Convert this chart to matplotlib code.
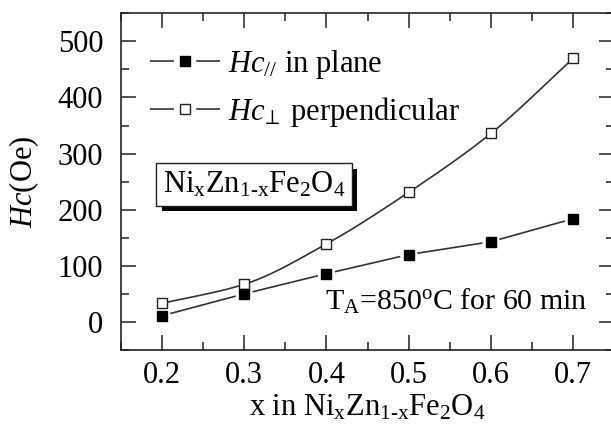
import numpy as np
import matplotlib
matplotlib.use("Agg")
import matplotlib.pyplot as plt
from matplotlib.lines import Line2D
from matplotlib.ticker import MultipleLocator
import matplotlib.patheffects as pe

plt.rcParams["font.family"] = ["Liberation Serif", "DejaVu Serif"]
plt.rcParams["mathtext.fontset"] = "custom"
plt.rcParams["mathtext.rm"] = "Liberation Serif"
plt.rcParams["mathtext.it"] = "Liberation Serif:italic"
plt.rcParams["mathtext.bf"] = "Liberation Serif:bold"
plt.rcParams["lines.scale_dashes"] = False

# Ni content and coercivity values
x_ni = [0.2, 0.3, 0.4, 0.5, 0.6, 0.7]
hc_in_plane = [11, 50, 86, 120, 143, 184]
hc_perp = [33, 67, 139, 231, 336, 470]

x_ticks = [0.2, 0.3, 0.4, 0.5, 0.6, 0.7]
y_ticks = [0, 100, 200, 300, 400, 500]

label_in = r"$\mathit{Hc}_{\mathit{//}}$ in plane"
label_perp = r"$\mathit{Hc}_{\!\perp}$ perpendicular"

FS = 22
W, H = 611, 438
fig = plt.figure(figsize=(W / 100, H / 100), dpi=100)
left, right, top, bottom = 120.7, 614.4, 13.3, 350.0
ax = fig.add_axes([left / W, 1 - bottom / H, (right - left) / W, (bottom - top) / H])

ax.set_xlim(0.15, 0.75)
ax.set_ylim(-50, 550)
ax.set_xticks(x_ticks)
ax.set_yticks(y_ticks)
ax.set_xticklabels([f"{v:.1f}" for v in x_ticks])
ax.xaxis.set_minor_locator(MultipleLocator(0.05))
ax.yaxis.set_minor_locator(MultipleLocator(50))
ax.tick_params(which="both", direction="in", top=True, right=True, width=1.1, color="#222222")
ax.tick_params(which="major", length=10.5, labelsize=FS)
ax.tick_params(which="minor", length=5.5)
ax.tick_params(axis="y", which="major", pad=12.5)
ax.tick_params(axis="x", which="major", pad=8)
for s in ax.spines.values():
    s.set_linewidth(1.2)
    s.set_color("#222222")

line_col = "#333333"
ms = 7.8

# perpendicular: smooth monotone cubic (Fritsch-Carlson) through the measured points
xs = np.array(x_ni, float)
ys = np.array(hc_perp, float)
hk = np.diff(xs)
dk = np.diff(ys) / hk
m = np.zeros_like(ys)
m[0], m[-1] = dk[0], dk[-1]
for i in range(1, len(xs) - 1):
    w1 = 2 * hk[i] + hk[i - 1]
    w2 = hk[i] + 2 * hk[i - 1]
    m[i] = (w1 + w2) / (w1 / dk[i - 1] + w2 / dk[i])
xf, yf = [], []
for i in range(len(xs) - 1):
    t = np.linspace(0, 1, 40)
    h00 = 2 * t**3 - 3 * t**2 + 1
    h10 = t**3 - 2 * t**2 + t
    h01 = -2 * t**3 + 3 * t**2
    h11 = t**3 - t**2
    xf.extend(xs[i] + t * hk[i])
    yf.extend(h00 * ys[i] + h10 * hk[i] * m[i] + h01 * ys[i + 1] + h11 * hk[i] * m[i + 1])
ax.plot(xf, yf, color=line_col, lw=1.2, zorder=2)
ax.plot(x_ni, hc_perp, ls="none", marker="s", ms=ms, mfc="white", mec="#222222", mew=1.0, zorder=3)

# in plane: straight segments stopping short of each marker
pts = ax.transData.transform(np.column_stack([x_ni, hc_in_plane]))
gap = 9.5
for p0, p1 in zip(pts[:-1], pts[1:]):
    d = p1 - p0
    u = d / np.hypot(*d)
    seg = ax.transData.inverted().transform(np.array([p0 + u * gap, p1 - u * gap]))
    ax.plot(seg[:, 0], seg[:, 1], color=line_col, lw=1.2, zorder=2)
ax.plot(x_ni, hc_in_plane, ls="none", marker="s", ms=ms, mfc="black", mec="black", zorder=3)

# legend: dash, marker, dash
hl = 2.3
L = hl * FS
g = 16
d = (L - g) / 2
h_in = Line2D([], [], color=line_col, lw=1.2, marker="s", ms=7.5, mfc="black", mec="black",
              dashes=(d, g, d, 300))
h_perp = Line2D([], [], color=line_col, lw=1.2, marker="s", ms=6.5, mfc="white", mec="#222222",
                mew=1.0, dashes=(d, g, d, 300))
leg = ax.legend([h_in, h_perp], [label_in, label_perp], loc="upper left",
                bbox_to_anchor=(150 / W, 1 - 48 / H), bbox_transform=fig.transFigure,
                frameon=False, fontsize=FS, handlelength=hl, handletextpad=0.25,
                labelspacing=0.45, numpoints=1, borderpad=0, borderaxespad=0)

# composition box with drop shadow
box = ax.text(0.312, 245, r"Ni$_\mathrm{x}$Zn$_\mathrm{1\text{-}x}$Fe$_\mathrm{2}$O$_\mathrm{4}$",
              fontsize=FS, ha="center", va="center", zorder=4,
              bbox=dict(boxstyle="square,pad=0.22", fc="white", ec="#222222", lw=1.0))
box.get_bbox_patch().set_path_effects([
    pe.SimplePatchShadow(offset=(4, -4), shadow_rgbFace="black", alpha=1.0),
    pe.Normal()])

ax.text(0.3985, 22, r"T$_\mathrm{A}$=850$^\mathrm{o}$C for 60 min", fontsize=21.5,
        ha="left", va="baseline", zorder=4)

ax.set_xlabel(r"x in Ni$_\mathrm{x}$Zn$_\mathrm{1\text{-}x}$Fe$_\mathrm{2}$O$_\mathrm{4}$",
              fontsize=FS, labelpad=2)
ax.set_ylabel(r"$\mathit{Hc}$(Oe)", fontsize=FS, labelpad=12)

fig.savefig("out.png", dpi=100)
